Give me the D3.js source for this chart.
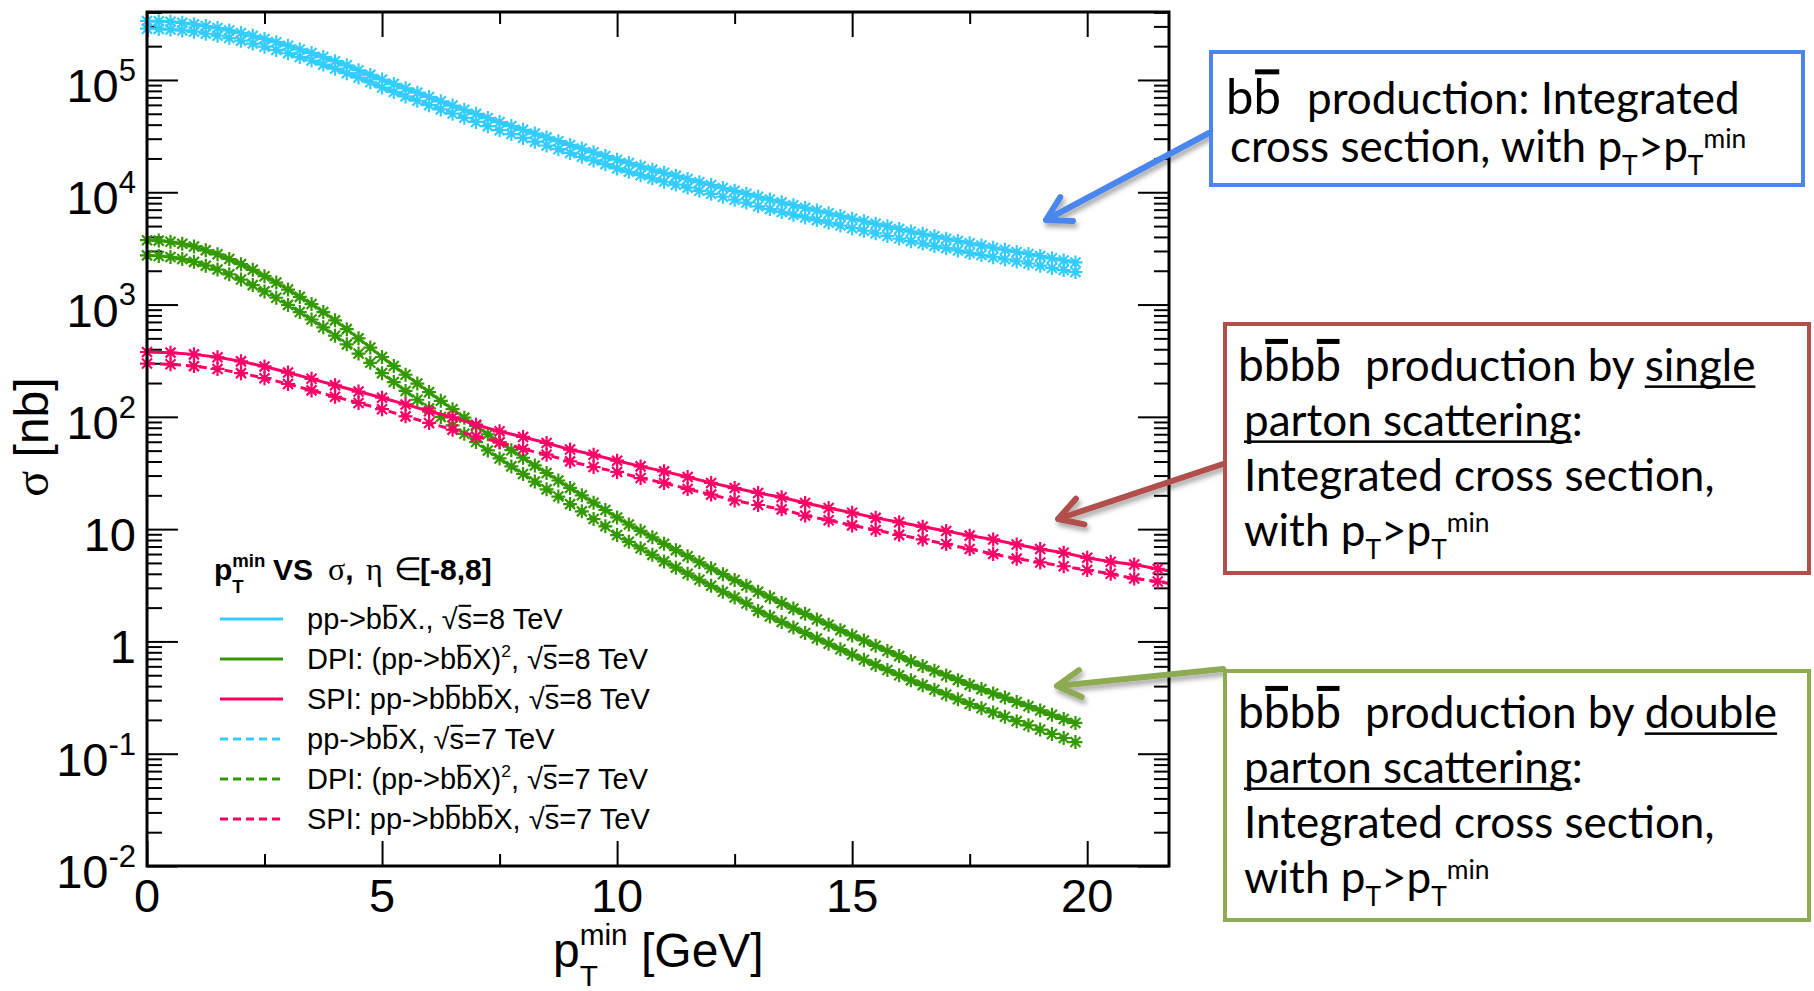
<!DOCTYPE html>
<html>
<head>
<meta charset="utf-8">
<script src="https://cdn.jsdelivr.net/npm/d3@7"></script>
<style>
  html, body { margin: 0; padding: 0; background: #fff; }
  svg { display: block; }
  text { white-space: pre; }
</style>
</head>
<body>
<svg id="chart" width="1814" height="991"></svg>
<script>
// pT^min grids (GeV)
const ptBB = [
  0, 0.25, 0.5, 0.75, 1, 1.25, 1.5, 1.75, 2, 2.25,
  2.5, 2.75, 3, 3.25, 3.5, 3.75, 4, 4.25, 4.5, 4.75,
  5, 5.25, 5.5, 5.75, 6, 6.25, 6.5, 6.75, 7, 7.25,
  7.5, 7.75, 8, 8.25, 8.5, 8.75, 9, 9.25, 9.5, 9.75,
  10, 10.25, 10.5, 10.75, 11, 11.25, 11.5, 11.75, 12, 12.25,
  12.5, 12.75, 13, 13.25, 13.5, 13.75, 14, 14.25, 14.5, 14.75,
  15, 15.25, 15.5, 15.75, 16, 16.25, 16.5, 16.75, 17, 17.25,
  17.5, 17.75, 18, 18.25, 18.5, 18.75, 19, 19.25, 19.5, 19.75
];
const ptSPI = [
  0, 0.5, 1, 1.5, 2, 2.5, 3, 3.5, 4, 4.5,
  5, 5.5, 6, 6.5, 7, 7.5, 8, 8.5, 9, 9.5,
  10, 10.5, 11, 11.5, 12, 12.5, 13, 13.5, 14, 14.5,
  15, 15.5, 16, 16.5, 17, 17.5, 18, 18.5, 19, 19.5,
  20, 20.5, 21, 21.5, 22
];

// sigma [nb]
const bb8 = [
  3.35e5, 3.33e5, 3.30e5, 3.23e5, 3.14e5, 3.02e5, 2.90e5, 2.76e5, 2.62e5, 2.47e5,
  2.32e5, 2.17e5, 2.02e5, 1.87e5, 1.74e5, 1.60e5, 1.47e5, 1.35e5, 1.22e5, 1.11e5,
  1.01e5, 9.23e4, 8.43e4, 7.71e4, 7.05e4, 6.46e4, 5.92e4, 5.43e4, 4.99e4, 4.58e4,
  4.22e4, 3.89e4, 3.60e4, 3.33e4, 3.08e4, 2.85e4, 2.64e4, 2.45e4, 2.27e4, 2.10e4,
  1.95e4, 1.82e4, 1.70e4, 1.59e4, 1.49e4, 1.40e4, 1.31e4, 1.23e4, 1.16e4, 1.09e4,
  1.03e4, 9.68e3, 9.12e3, 8.61e3, 8.13e3, 7.67e3, 7.26e3, 6.87e3, 6.50e3, 6.15e3,
  5.82e3, 5.52e3, 5.24e3, 4.97e3, 4.71e3, 4.47e3, 4.26e3, 4.06e3, 3.86e3, 3.68e3,
  3.51e3, 3.36e3, 3.21e3, 3.08e3, 2.94e3, 2.82e3, 2.70e3, 2.58e3, 2.47e3, 2.37e3
];
const bb7 = [
  2.86e5, 2.85e5, 2.82e5, 2.76e5, 2.69e5, 2.58e5, 2.48e5, 2.36e5, 2.24e5, 2.11e5,
  1.98e5, 1.85e5, 1.73e5, 1.60e5, 1.49e5, 1.37e5, 1.26e5, 1.15e5, 1.05e5, 9.53e4,
  8.57e4, 7.82e4, 7.14e4, 6.53e4, 5.97e4, 5.47e4, 5.01e4, 4.60e4, 4.23e4, 3.88e4,
  3.57e4, 3.30e4, 3.05e4, 2.82e4, 2.61e4, 2.42e4, 2.24e4, 2.07e4, 1.92e4, 1.78e4,
  1.63e4, 1.52e4, 1.42e4, 1.33e4, 1.24e4, 1.17e4, 1.10e4, 1.03e4, 9.68e3, 9.12e3,
  8.59e3, 8.09e3, 7.50e3, 7.08e3, 6.68e3, 6.31e3, 5.97e3, 5.65e3, 5.35e3, 5.06e3,
  4.79e3, 4.54e3, 4.31e3, 4.08e3, 3.87e3, 3.67e3, 3.50e3, 3.33e3, 3.18e3, 3.03e3,
  2.88e3, 2.76e3, 2.64e3, 2.53e3, 2.42e3, 2.32e3, 2.22e3, 2.12e3, 2.03e3, 1.95e3
];
const dpi8 = [
  3.74e3, 3.71e3, 3.62e3, 3.48e3, 3.29e3, 3.04e3, 2.80e3, 2.54e3, 2.29e3, 2.04e3,
  1.79e3, 1.57e3, 1.36e3, 1.17e3, 1.01e3, 857, 723, 604, 500, 414,
  341, 284, 237, 198, 166, 139, 117, 98.4, 83.0, 70.0,
  59.3, 50.5, 43.2, 36.9, 31.6, 27.1, 23.3, 20.0, 17.2, 14.8,
  12.7, 11.0, 9.66, 8.45, 7.40, 6.50, 5.74, 5.07, 4.48, 3.97,
  3.52, 3.13, 2.77, 2.47, 2.20, 1.96, 1.76, 1.57, 1.41, 1.26,
  1.13, 1.02, 0.914, 0.822, 0.740, 0.665, 0.604, 0.548, 0.498, 0.452,
  0.410, 0.376, 0.344, 0.316, 0.289, 0.265, 0.243, 0.222, 0.204, 0.188
];
const dpi7 = [
  2.74e3, 2.71e3, 2.65e3, 2.54e3, 2.40e3, 2.22e3, 2.05e3, 1.86e3, 1.67e3, 1.49e3,
  1.31e3, 1.15e3, 993, 857, 736, 627, 528, 442, 366, 303,
  245, 204, 170, 142, 119, 99.8, 83.8, 70.6, 59.6, 50.2,
  42.6, 36.2, 31.0, 26.5, 22.6, 19.5, 16.7, 14.4, 12.3, 10.6,
  8.85, 7.71, 6.75, 5.90, 5.16, 4.54, 4.01, 3.54, 3.13, 2.77,
  2.46, 2.18, 1.87, 1.67, 1.49, 1.33, 1.19, 1.06, 0.953, 0.853,
  0.764, 0.687, 0.618, 0.556, 0.500, 0.450, 0.408, 0.371, 0.337, 0.305,
  0.277, 0.254, 0.233, 0.213, 0.195, 0.179, 0.164, 0.150, 0.138, 0.127
];
const spi8 = [
  378, 373, 360, 339, 312, 281, 248, 218, 191, 168,
  148, 129, 112, 99.1, 85.1, 74.3, 66.2, 58.5, 51.1, 46.0,
  40.7, 36.2, 32.7, 29.1, 25.8, 23.2, 21.0, 19.2, 17.1, 15.4,
  14.0, 12.6, 11.5, 10.5, 9.62, 8.75, 8.09, 7.31, 6.65, 6.15,
  5.55, 5.13, 4.85, 4.42, 4.07
];
const spi7 = [
  298, 294, 283, 267, 245, 221, 196, 172, 151, 133,
  117, 101, 88.3, 76.9, 67.0, 59.3, 51.8, 46.0, 40.1, 35.7,
  32.3, 28.5, 25.8, 22.8, 20.3, 18.0, 16.4, 15.0, 13.2, 12.0,
  10.8, 9.84, 8.89, 8.09, 7.36, 6.65, 6.00, 5.46, 5.05, 4.67,
  4.32, 4.00, 3.63, 3.41, 3.16
];

const xTicks = [0, 5, 10, 15, 20];
const xMinor = [2.5, 7.5, 12.5, 17.5];
const yDecades = [0.01, 0.1, 1, 10, 100, 1e3, 1e4, 1e5];
const yExp = [-2, -1, 0, 1, 2, 3, 4, 5];

const blue = "#33ccff", green = "#339900", pink = "#ff0066";

const series = [
  { pt: ptBB, v: bb8, color: blue, dash: null },
  { pt: ptBB, v: bb7, color: blue, dash: "8,5" },
  { pt: ptBB, v: dpi8, color: green, dash: null },
  { pt: ptBB, v: dpi7, color: green, dash: "8,5" },
  { pt: ptSPI, v: spi8, color: pink, dash: null },
  { pt: ptSPI, v: spi7, color: pink, dash: "8,5" }
];

const frame = { left: 147, right: 1169, top: 12, bottom: 866 };
const sans = "'Liberation Sans', Arial, Helvetica, sans-serif";
const serif = "'Liberation Serif', 'Times New Roman', serif";
const slideFont = "Lato, 'Open Sans', sans-serif";

const x = d3.scaleLinear().domain([0, 21.74]).range([frame.left, frame.right]);
const y = d3.scaleLog().domain([0.01, 4.03e5]).range([frame.bottom, frame.top]);

const svg = d3.select("#chart");

// text made of pieces: sub/superscripts, overlines, underlines
function rich(parent, x0, y0, parts, base) {
  const g = parent.append("g");
  let cx = x0;
  parts.forEach(p => {
    const o = Object.assign({}, base, p);
    if (p.at != null) cx = p.at;
    const script = o.sup || o.sub;
    const size = script ? o.size * o.scriptScale : o.size;
    const by = y0 + (o.sup ? -o.size * o.supRaise : o.sub ? o.size * o.subDrop : 0);
    const t = g.append("text")
      .attr("x", cx).attr("y", by)
      .attr("font-family", o.family)
      .attr("font-size", size)
      .attr("font-weight", o.weight || "normal")
      .attr("fill", "#000")
      .text(o.t);
    const w = t.node().getComputedTextLength();
    if (o.over) {
      g.append("rect")
        .attr("x", cx + w * 0.06).attr("y", by - size * o.overY - o.overW / 2)
        .attr("width", w * 0.88).attr("height", o.overW);
    }
    if (o.under) {
      g.append("rect")
        .attr("x", cx).attr("y", by + size * 0.1)
        .attr("width", w).attr("height", 2.5);
    }
    if (!o.stay) cx += w;
  });
  return { g, width: cx - x0 };
}

function draw() {
  svg.append("rect").attr("width", 1814).attr("height", 991).attr("fill", "#fff");

  const defs = svg.append("defs");
  defs.append("clipPath").attr("id", "clip")
    .append("rect")
    .attr("x", frame.left).attr("y", frame.top)
    .attr("width", frame.right - frame.left).attr("height", frame.bottom - frame.top);
  defs.append("clipPath").attr("id", "clipMarks")
    .append("rect")
    .attr("x", 0).attr("y", 0)
    .attr("width", frame.right).attr("height", 991);
  defs.append("filter").attr("id", "shadow")
    .attr("x", "-20%").attr("y", "-40%").attr("width", "140%").attr("height", "180%")
    .append("feDropShadow")
    .attr("dx", 2).attr("dy", 4).attr("stdDeviation", 2.5)
    .attr("flood-color", "#000").attr("flood-opacity", 0.35);

  // ticks
  const minorY = [];
  yDecades.forEach(d => {
    for (let k = 2; k <= 9; k++) if (d * k <= y.domain()[1]) minorY.push(d * k);
  });

  const axes = svg.append("g");
  const addAxis = (axis, tx, ty) => {
    const g = axes.append("g").attr("transform", `translate(${tx},${ty})`).call(axis);
    g.select(".domain").remove();
    g.selectAll("line").attr("stroke", "#000").attr("stroke-width", 2);
    g.selectAll("text").remove();
  };
  addAxis(d3.axisBottom(x).tickValues(xTicks).tickSize(-25), 0, frame.bottom);
  addAxis(d3.axisBottom(x).tickValues(xMinor).tickSize(-12), 0, frame.bottom);
  addAxis(d3.axisTop(x).tickValues(xTicks).tickSize(-25), 0, frame.top);
  addAxis(d3.axisTop(x).tickValues(xMinor).tickSize(-12), 0, frame.top);
  addAxis(d3.axisLeft(y).tickValues(yDecades).tickSize(-31), frame.left, 0);
  addAxis(d3.axisLeft(y).tickValues(minorY).tickSize(-15), frame.left, 0);
  addAxis(d3.axisRight(y).tickValues(yDecades).tickSize(-31), frame.right, 0);
  addAxis(d3.axisRight(y).tickValues(minorY).tickSize(-15), frame.right, 0);

  // tick labels
  const labels = svg.append("g");
  xTicks.forEach(v => {
    labels.append("text")
      .attr("x", x(v)).attr("y", 912)
      .attr("text-anchor", "middle")
      .attr("font-family", sans).attr("font-size", 47)
      .text(v);
  });
  const yBase = { size: 47, family: sans, scriptScale: 0.66, supRaise: 0.45, subDrop: 0.3 };
  yDecades.forEach((v, i) => {
    const e = yExp[i];
    const parts = e === 0 ? [{ t: "1" }] : e === 1 ? [{ t: "10" }] : [{ t: "10" }, { t: String(e), sup: true }];
    const r = rich(labels, 0, y(v) + 22, parts, yBase);
    r.g.attr("transform", `translate(${136 - r.width},0)`);
  });

  // axis titles
  rich(svg, 553, 967, [
    { t: "p" }, { t: "T", sub: true, stay: true }, { t: "min", sup: true }, { t: " [GeV]" }
  ], { size: 48, family: sans, scriptScale: 0.62, supRaise: 0.46, subDrop: 0.4 });

  const yt = svg.append("text")
    .attr("transform", "translate(48,437) rotate(-90)")
    .attr("text-anchor", "middle")
    .attr("font-family", sans).attr("font-size", 48);
  yt.append("tspan").attr("font-family", serif).text("σ");
  yt.append("tspan").text(" [nb]");

  // data
  const line = d3.line().x(d => x(d[0])).y(d => y(d[1]));
  const star = "M-7,0H7M0,-7V7M-5,-5L5,5M-5,5L5,-5";
  const plot = svg.append("g");
  series.forEach(s => {
    const pts = d3.zip(s.pt, s.v);
    plot.append("path")
      .attr("clip-path", "url(#clip)")
      .attr("d", line(pts))
      .attr("fill", "none")
      .attr("stroke", s.color)
      .attr("stroke-width", 3)
      .attr("stroke-dasharray", s.dash);
    plot.append("g").attr("clip-path", "url(#clipMarks)")
      .selectAll("path").data(pts).join("path")
      .attr("transform", d => `translate(${x(d[0])},${y(d[1])})`)
      .attr("d", star)
      .attr("fill", "none")
      .attr("stroke", s.color)
      .attr("stroke-width", 2.2);
  });

  // frame
  svg.append("rect")
    .attr("x", frame.left).attr("y", frame.top)
    .attr("width", frame.right - frame.left).attr("height", frame.bottom - frame.top)
    .attr("fill", "none").attr("stroke", "#000").attr("stroke-width", 3);

  // legend
  const leg = svg.append("g");
  const tBase = { size: 30, family: sans, weight: "bold", scriptScale: 0.62, supRaise: 0.42, subDrop: 0.44 };
  rich(leg, 214, 580, [
    { t: "p" }, { t: "T", sub: true, stay: true }, { t: "min", sup: true },
    { t: "VS", at: 273 },
    { t: "σ", at: 328, family: serif, weight: "normal", size: 32 }, { t: "," },
    { t: "η", at: 366, family: serif, weight: "normal", size: 32 },
    { t: "∈", at: 394, family: serif, weight: "normal", size: 32 },
    { t: "[-8,8]", at: 420 }
  ], tBase);

  const eBase = { size: 29, family: sans, scriptScale: 0.6, supRaise: 0.42, subDrop: 0.3, overY: 0.8, overW: 2 };
  const bbX = [{ t: "pp->b" }, { t: "b", over: true }];
  const rs = e => [{ t: "√" }, { t: "s", over: true }, { t: "=" + e + " TeV" }];
  const legendEntries = [
    { color: blue, dash: null, parts: [...bbX, { t: "X., " }, ...rs(8)] },
    { color: green, dash: null, parts: [{ t: "DPI: (pp->b" }, { t: "b", over: true }, { t: "X)" }, { t: "2", sup: true }, { t: ", " }, ...rs(8)] },
    { color: pink, dash: null, parts: [{ t: "SPI: pp->b" }, { t: "b", over: true }, { t: "b" }, { t: "b", over: true }, { t: "X, " }, ...rs(8)] },
    { color: blue, dash: "8,5", parts: [...bbX, { t: "X, " }, ...rs(7)] },
    { color: green, dash: "8,5", parts: [{ t: "DPI: (pp->b" }, { t: "b", over: true }, { t: "X)" }, { t: "2", sup: true }, { t: ", " }, ...rs(7)] },
    { color: pink, dash: "8,5", parts: [{ t: "SPI: pp->b" }, { t: "b", over: true }, { t: "b" }, { t: "b", over: true }, { t: "X, " }, ...rs(7)] }
  ];
  legendEntries.forEach((e, i) => {
    const cy = 619 + 40 * i;
    leg.append("line")
      .attr("x1", 220).attr("x2", e.dash ? 280 : 283)
      .attr("y1", cy).attr("y2", cy)
      .attr("stroke", e.color).attr("stroke-width", 3)
      .attr("stroke-dasharray", e.dash);
    rich(leg, 307, cy + 10, e.parts, eBase);
  });

  // annotations
  const ann = svg.append("g");
  const arrow = (x1, y1, x2, y2, color) => {
    const a = Math.atan2(y1 - y2, x1 - x2), L = 27, s = Math.PI / 6;
    const p = d3.path();
    p.moveTo(x1, y1); p.lineTo(x2, y2);
    p.moveTo(x2 + L * Math.cos(a + s), y2 + L * Math.sin(a + s));
    p.lineTo(x2, y2);
    p.lineTo(x2 + L * Math.cos(a - s), y2 + L * Math.sin(a - s));
    ann.append("path").attr("d", p.toString())
      .attr("fill", "none").attr("stroke", color).attr("stroke-width", 6)
      .attr("stroke-linecap", "round").attr("stroke-linejoin", "round")
      .attr("filter", "url(#shadow)");
  };
  const boxBlue = "#4a86ee", boxRed = "#b0504b", boxGreen = "#8eaa52";
  arrow(1209, 133, 1046, 220, boxBlue);
  arrow(1223, 464, 1058, 519, boxRed);
  arrow(1223, 669, 1057, 686, boxGreen);

  const box = (x0, y0, w, h, color) => {
    ann.append("rect").attr("x", x0).attr("y", y0).attr("width", w).attr("height", h)
      .attr("fill", "#fff").attr("stroke", color).attr("stroke-width", 4);
  };
  box(1211, 52, 592, 133, boxBlue);
  box(1225, 324, 584, 249, boxRed);
  box(1225, 671, 584, 249, boxGreen);

  const sBase = { size: 44, family: slideFont, scriptScale: 0.6, supRaise: 0.32, subDrop: 0.3, overY: 0.86, overW: 5 };
  const withPt = [{ t: "p" }, { t: "T", sub: true }, { t: ">p" }, { t: "T", sub: true }, { t: "min", sup: true }];

  rich(ann, 1226, 114, [
    { t: "b", size: 49 }, { t: "b", size: 49, over: true },
    { t: "production: Integrated", at: 1307 }
  ], sBase);
  rich(ann, 1230, 162, [{ t: "cross section, with " }, ...withPt], sBase);

  const bbbb = [{ t: "b", size: 46 }, { t: "b", size: 46, over: true }, { t: "b", size: 46 }, { t: "b", size: 46, over: true }];
  [[381, "single"], [728, "double"]].forEach(([b0, word]) => {
    rich(ann, 1238, b0, [...bbbb, { t: "production by ", at: 1365 }, { t: word, under: true }], sBase);
    rich(ann, 1244, b0 + 55, [{ t: "parton scattering", under: true }, { t: ":" }], sBase);
    rich(ann, 1244, b0 + 110, [{ t: "Integrated cross section," }], sBase);
    rich(ann, 1244, b0 + 165, [{ t: "with " }, ...withPt], sBase);
  });
}

document.fonts.ready.then(draw);
</script>
</body>
</html>
